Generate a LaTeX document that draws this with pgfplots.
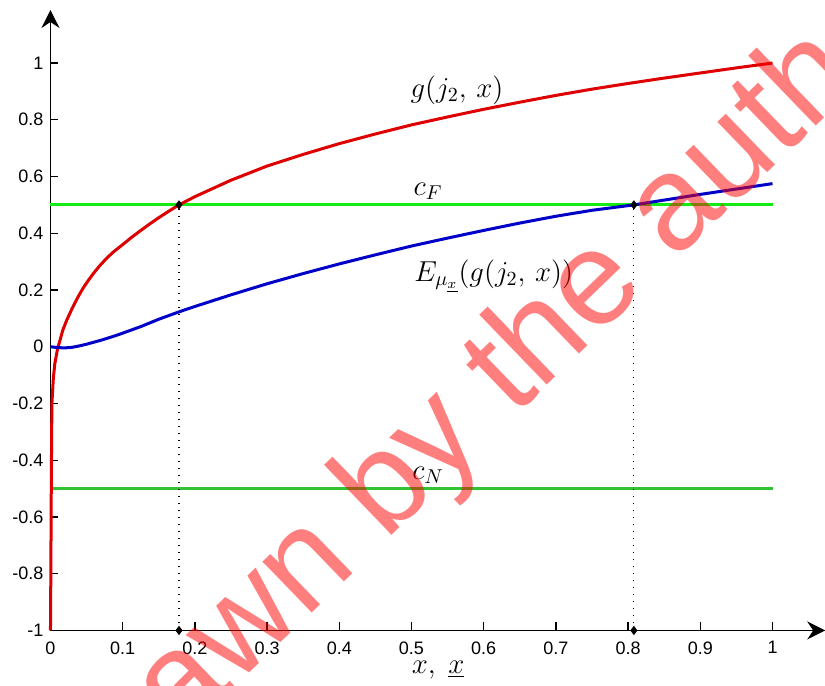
\documentclass[border=0pt]{standalone}
\usepackage{fontspec}
\setmainfont{Liberation Sans}
\usepackage{pgfplots}
\pgfplotsset{compat=1.18}
\usetikzlibrary{arrows.meta}
\definecolor{gred}{RGB}{222,0,0}
\definecolor{gblue}{RGB}{0,0,200}
\definecolor{ggreenA}{RGB}{20,235,20}
\definecolor{ggreenB}{RGB}{50,195,50}

\begin{document}
\begin{tikzpicture}
\begin{axis}[
    x=360.75pt, y=141.75pt,
    xmin=0, xmax=1.073, ymin=-1, ymax=1.187,
    enlargelimits=false,
    clip=false,
    axis lines=left,
    axis line style={line width=0.8pt, -{Stealth[length=9pt,width=9pt,inset=3pt]}},
    tick align=inside,
    major tick length=4pt,
    tick style={line width=0.7pt, black},
    xtick={0,0.1,0.2,0.3,0.4,0.5,0.6,0.7,0.8,0.9,1},
    ytick={-1,-0.8,-0.6,-0.4,-0.2,0,0.2,0.4,0.6,0.8,1},
    tick label style={font=\fontsize{9}{11}\selectfont},
    xticklabel style={yshift=-2pt},
    /pgf/number format/assume math mode=true,
    xlabel={$x,\ \underline{x}$},
    xlabel style={font=\fontsize{14}{16}\selectfont, at={(axis cs:0.537,-1)}, anchor=center, yshift=-20pt},
  ]
  % threshold lines c_F and c_N
  \addplot[ggreenA, line width=1.5pt] coordinates {(0,0.5) (1,0.5)};
  \addplot[ggreenB, line width=1.5pt] coordinates {(0,-0.5) (1,-0.5)};
  % dotted drops to the x axis
  \addplot[black, line width=0.6pt, dash pattern=on 0.6pt off 2.9pt] coordinates {(0.178,-1) (0.178,0.5)};
  \addplot[black, line width=0.6pt, dash pattern=on 0.6pt off 2.9pt] coordinates {(0.808,-1) (0.808,0.5)};
  % g(j_2, x)
  \addplot[gred, line width=1.5pt] table {
    x       y
    0       -1
    0.0005  -0.80
    0.001   -0.55
    0.0015  -0.35
    0.002   -0.20
    0.004   -0.11
    0.006   -0.06
    0.010   -0.005
    0.014   0.03
    0.017   0.058
    0.0224  0.093
    0.030   0.135
    0.038   0.175
    0.0455  0.208
    0.053   0.236
    0.060   0.260
    0.068   0.285
    0.0778  0.312
    0.088   0.336
    0.100   0.360
    0.112   0.385
    0.124   0.408
    0.137   0.432
    0.150   0.455
    0.164   0.478
    0.178   0.500
    0.200   0.529
    0.250   0.587
    0.300   0.637
    0.350   0.678
    0.400   0.716
    0.450   0.750
    0.500   0.782
    0.550   0.810
    0.600   0.837
    0.650   0.862
    0.700   0.886
    0.750   0.908
    0.800   0.928
    0.850   0.947
    0.900   0.965
    0.950   0.983
    1.000   1.000
  };
  % E(g(j_2, x))
  \addplot[gblue, line width=1.5pt] table {
    x      y
    0      0
    0.010  -0.003
    0.020  -0.004
    0.030  -0.002
    0.040  0.003
    0.050  0.009
    0.060  0.016
    0.070  0.023
    0.080  0.031
    0.090  0.039
    0.100  0.048
    0.125  0.071
    0.150  0.097
    0.178  0.123
    0.200  0.142
    0.250  0.183
    0.300  0.222
    0.350  0.258
    0.400  0.292
    0.450  0.324
    0.500  0.355
    0.550  0.383
    0.600  0.410
    0.650  0.436
    0.700  0.460
    0.750  0.481
    0.808  0.500
    0.850  0.517
    0.900  0.537
    0.950  0.556
    1.000  0.575
  };
  \addplot[only marks, mark=diamond*, mark size=2pt, black] coordinates {
    (0.178,0.5) (0.808,0.5) (0.178,-1) (0.808,-1)};
  \node[font=\fontsize{14}{16}\selectfont] at (axis cs:0.563,0.905) {$g(j_2,\,x)$};
  \node[font=\fontsize{14}{16}\selectfont] at (axis cs:0.523,0.548) {$c_F$};
  \node[font=\fontsize{14}{16}\selectfont] at (axis cs:0.614,0.249) {$E_{\mu_{\underline{x}}}(g(j_2,\,x))$};
  \node[font=\fontsize{14}{16}\selectfont] at (axis cs:0.523,-0.453) {$c_N$};
  % watermark
  \node[overlay, rotate=44, text=red, opacity=0.5, font=\fontsize{67}{70}\selectfont]
    at (axis cs:0.609,-0.160) {Drawn by the author};
  \coordinate (bbA) at (axis cs:-0.0699,-1.194);
  \coordinate (bbB) at (axis cs:1.0727,1.2222);
\end{axis}
\pgfresetboundingbox
\path[use as bounding box] (bbA) rectangle (bbB);
\end{tikzpicture}
\end{document}
